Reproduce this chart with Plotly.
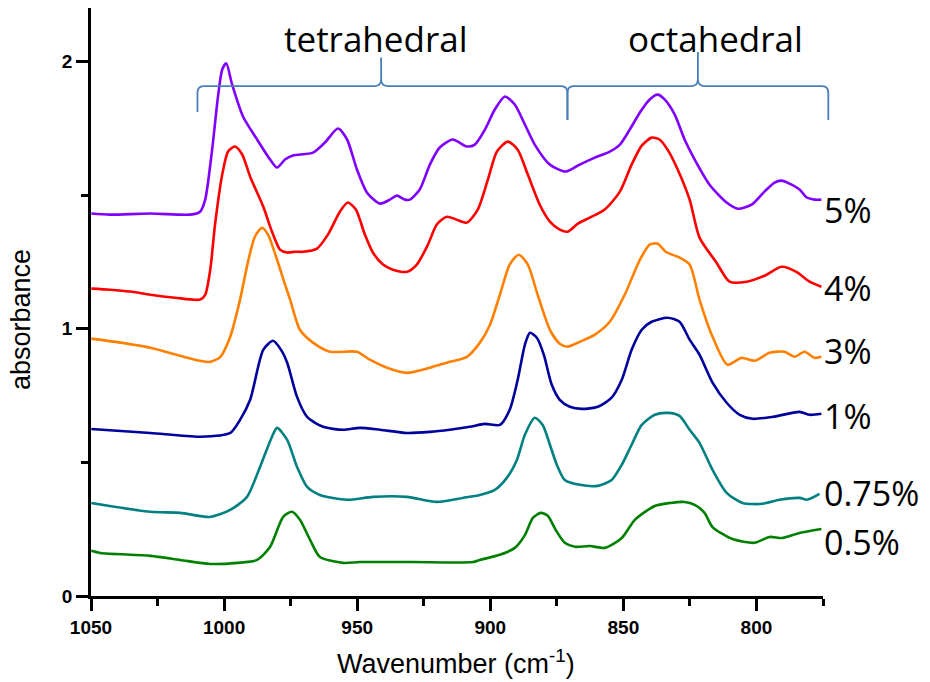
import plotly.graph_objects as go

# ---------------- data (wavenumber cm^-1, absorbance) ----------------
wn_5 = [1049.9,1042.8,1027.7,1012.7,1009.0,1007.1,1004.5,1002.2,1000.7,999.2,997.0,992.9,987.6,982.7,980.1,977.1,
        974.1,966.6,962.1,957.2,953.8,950.1,946.3,941.4,937.7,935.1,932.1,930.2,926.5,922.7,919.0,914.1,908.8,905.8,
        902.0,898.3,894.5,890.8,887.0,883.3,877.6,871.6,866.4,860.7,855.1,851.3,847.6,843.8,840.1,837.1,834.5,830.7,
        827.0,823.2,817.6,811.2,807.1,801.8,797.0,793.2,790.6,787.6,783.8,781.1,778.2,775.6]
ab_5 = [1.431,1.427,1.431,1.427,1.438,1.483,1.670,1.876,1.970,1.993,1.914,1.794,1.708,1.633,1.603,1.633,
        1.648,1.659,1.697,1.749,1.708,1.596,1.509,1.468,1.483,1.498,1.483,1.483,1.521,1.614,1.678,1.708,1.682,1.689,
        1.745,1.820,1.869,1.839,1.764,1.689,1.614,1.588,1.614,1.640,1.663,1.689,1.745,1.809,1.858,1.876,1.858,1.801,
        1.708,1.633,1.539,1.472,1.449,1.464,1.513,1.547,1.554,1.543,1.521,1.491,1.483,1.483]

wn_4 = [1049.9,1042.8,1035.3,1027.7,1018.4,1009.0,1007.1,1005.2,1003.4,1000.7,998.5,995.9,993.2,990.2,985.3,982.0,
        979.0,976.3,973.3,970.3,965.1,961.0,956.5,953.5,950.5,947.1,944.1,940.3,936.6,931.3,927.6,923.4,920.1,916.3,
        912.6,908.8,904.7,900.9,897.5,893.4,889.7,885.9,881.4,877.6,873.9,870.9,867.1,862.6,857.0,851.3,846.9,843.1,
        839.4,836.4,833.4,829.6,825.1,821.4,815.0,810.1,803.7,796.2,790.6,785.0,780.0,775.6]
ab_4 = [1.150,1.146,1.139,1.127,1.116,1.109,1.127,1.221,1.390,1.577,1.663,1.682,1.652,1.569,1.457,1.363,
        1.296,1.285,1.288,1.288,1.300,1.352,1.438,1.472,1.446,1.352,1.285,1.240,1.221,1.213,1.240,1.315,1.390,1.419,
        1.408,1.397,1.446,1.558,1.663,1.700,1.670,1.577,1.464,1.401,1.371,1.363,1.393,1.416,1.446,1.513,1.614,1.685,
        1.715,1.708,1.670,1.596,1.483,1.341,1.247,1.176,1.176,1.202,1.232,1.213,1.176,1.157]

wn_3 = [1049.9,1039.0,1027.7,1016.5,1009.0,1005.2,1001.4,997.7,994.0,991.0,988.4,985.7,983.5,980.1,977.1,975.2,
        971.5,966.6,960.2,950.1,945.2,938.8,931.3,922.7,916.3,908.8,903.9,900.1,896.4,892.7,889.3,885.9,882.2,877.6,
        873.9,870.9,866.4,860.7,855.1,849.5,843.8,840.1,837.1,834.1,828.9,825.1,821.4,816.5,810.9,805.6,800.7,795.1,
        789.5,785.7,781.9,778.2,775.6]
ab_3 = [0.963,0.948,0.929,0.899,0.880,0.876,0.895,0.970,1.109,1.251,1.345,1.378,1.352,1.258,1.165,1.109,
        0.996,0.948,0.914,0.914,0.884,0.854,0.835,0.854,0.873,0.895,0.948,1.015,1.127,1.240,1.277,1.240,1.127,0.996,
        0.944,0.933,0.951,0.978,1.026,1.127,1.258,1.315,1.318,1.288,1.266,1.240,1.109,0.970,0.865,0.891,0.880,0.910,
        0.914,0.895,0.914,0.891,0.895]

wn_1 = [1049.9,1027.7,1009.0,997.7,994.0,990.2,985.3,981.6,978.6,976.3,972.6,968.8,962.8,955.3,949.0,941.4,
        931.3,922.7,915.2,907.7,902.0,896.4,892.7,889.7,887.0,885.1,882.5,879.9,876.9,873.9,870.1,865.6,859.6,854.4,
        850.6,846.9,843.1,839.4,833.4,828.9,825.1,821.4,816.5,811.2,806.3,801.5,794.0,783.8,780.0,775.6]
ab_1 = [0.625,0.610,0.596,0.610,0.659,0.734,0.921,0.955,0.921,0.873,0.745,0.670,0.633,0.622,0.629,0.622,
        0.610,0.614,0.622,0.633,0.644,0.640,0.697,0.809,0.940,0.985,0.966,0.903,0.790,0.734,0.708,0.700,0.708,0.742,
        0.809,0.921,0.996,1.026,1.041,1.026,0.959,0.903,0.798,0.723,0.678,0.663,0.670,0.689,0.678,0.682]

wn_075 = [1049.9,1027.7,1016.5,1005.2,997.7,991.4,986.5,982.0,980.1,976.3,972.6,968.8,964.0,953.8,944.1,931.3,
          920.1,910.3,903.9,898.3,893.8,890.0,887.0,883.3,880.3,877.6,875.0,872.0,866.4,859.6,854.4,850.6,846.9,
          843.1,838.2,833.4,828.9,825.1,821.4,816.5,811.2,805.2,797.7,791.3,783.8,781.1,776.3]
ab_075 = [0.348,0.315,0.311,0.296,0.322,0.371,0.483,0.596,0.629,0.584,0.483,0.408,0.378,0.360,0.371,0.371,
          0.352,0.367,0.378,0.397,0.442,0.509,0.603,0.667,0.640,0.566,0.491,0.434,0.416,0.412,0.434,0.491,0.566,
          0.640,0.678,0.685,0.674,0.622,0.573,0.472,0.386,0.348,0.345,0.360,0.367,0.360,0.382]

wn_05 = [1049.9,1046.5,1027.7,1016.5,1005.2,995.1,987.6,982.7,977.8,974.5,971.5,967.7,964.0,955.3,949.0,929.1,
         906.5,903.9,896.4,890.8,887.0,884.0,881.0,878.4,875.4,872.0,868.2,862.6,857.0,850.6,845.7,838.2,832.6,
         827.0,823.2,819.5,816.5,809.0,800.7,795.1,790.2,783.8,775.6]
ab_05 = [0.169,0.161,0.150,0.135,0.120,0.124,0.135,0.184,0.296,0.315,0.285,0.210,0.146,0.124,0.127,0.127,
         0.127,0.135,0.154,0.180,0.228,0.292,0.311,0.300,0.247,0.199,0.184,0.187,0.180,0.217,0.285,0.337,0.348,
         0.352,0.341,0.311,0.258,0.213,0.199,0.221,0.217,0.236,0.251]

series_names = ["5%", "4%", "3%", "1%", "0.75%", "0.5%"]
series_wn = [wn_5, wn_4, wn_3, wn_1, wn_075, wn_05]
series_ab = [ab_5, ab_4, ab_3, ab_1, ab_075, ab_05]
series_colors = ["#8000FF", "#FF0000", "#FF8000", "#00009C", "#008080", "#008000"]
label_y = [1.446, 1.154, 0.918, 0.674, 0.386, 0.202]

# brace groups: (left wn, tip wn, right wn), label
brace_groups = [(1010, 941, 871), (871, 822, 773)]
brace_labels = ["tetrahedral", "octahedral"]
brace_label_wn = [943, 815.5]
brace_tip_y = [2.015, 2.035]

X_MAX, X_MIN = 1050, 775
Y_MAX = 2.2

fig = go.Figure()
for nm, xs, ys, c in zip(series_names, series_wn, series_ab, series_colors):
    fig.add_trace(go.Scatter(x=xs, y=ys, mode="lines", name=nm,
                             line=dict(color=c, width=2.6, shape="spline", smoothing=0.7),
                             showlegend=False, hoverinfo="skip"))

annotations = []
for nm, yv in zip(series_names, label_y):
    annotations.append(dict(x=X_MIN, y=yv, xref="x", yref="y", text=nm, showarrow=False,
                            xanchor="left", yanchor="middle", xshift=-1,
                            font=dict(family="Open Sans", size=34, color="black")))
for lab, xw in zip(brace_labels, brace_label_wn):
    annotations.append(dict(x=xw, y=2.085, xref="x", yref="y", text=lab, showarrow=False,
                            xanchor="center", yanchor="middle",
                            font=dict(family="Open Sans", size=35, color="black")))
annotations.append(dict(x=(21 - 91) / 732, y=(596 - 320) / 588, xref="paper", yref="paper",
                        text="absorbance", showarrow=False, textangle=-90,
                        xanchor="center", yanchor="middle",
                        font=dict(family="Liberation Sans", size=27, color="black")))
annotations.append(dict(x=(456 - 91) / 732, y=-(662 - 596) / 588, xref="paper", yref="paper",
                        text="Wavenumber (cm<sup>-1</sup>)", showarrow=False,
                        xanchor="center", yanchor="middle",
                        font=dict(family="Liberation Sans", size=27, color="black")))


def px(w):
    return (X_MAX - w) / (X_MAX - X_MIN)


shapes = []
y_line = 1.908
ry = 0.026
rx = 2.3
for (a, m, b), ytip in zip(brace_groups, brace_tip_y):
    y_end_a = 1.811 if a == brace_groups[0][0] else 1.781
    y_end_b = 1.781
    path = (f"M {px(a)},{y_end_a} L {px(a)},{y_line - ry} Q {px(a)},{y_line} {px(a - rx)},{y_line} "
            f"L {px(m + rx)},{y_line} Q {px(m)},{y_line} {px(m)},{y_line + ry} L {px(m)},{ytip} "
            f"L {px(m)},{y_line + ry} Q {px(m)},{y_line} {px(m - rx)},{y_line} "
            f"L {px(b + rx)},{y_line} Q {px(b)},{y_line} {px(b)},{y_line - ry} L {px(b)},{y_end_b}")
    shapes.append(dict(type="path", xref="paper", yref="y", path=path,
                       line=dict(color="#4A7EBB", width=1.8)))

tickfont = dict(family="Liberation Sans", size=19, color="black")
fig.update_layout(
    width=930, height=682,
    margin=dict(l=91, r=107, t=8, b=86),
    paper_bgcolor="white", plot_bgcolor="white",
    annotations=annotations, shapes=shapes,
    xaxis=dict(range=[X_MAX, X_MIN], showgrid=False, zeroline=False,
               showline=True, linecolor="black", linewidth=2.5,
               ticks="outside", ticklen=12, tickwidth=2.5, tickcolor="black",
               tickmode="array", tickvals=[1050, 1000, 950, 900, 850, 800],
               ticktext=["<b>1050</b>", "<b>1000</b>", "<b>950</b>", "<b>900</b>", "<b>850</b>", "<b>800</b>"],
               tickfont=tickfont,
               minor=dict(tickmode="array", tickvals=[1025, 975, 925, 875, 825, 775],
                          ticks="outside", ticklen=7, tickwidth=2.5, tickcolor="black")),
    yaxis=dict(range=[0, Y_MAX], showgrid=False, zeroline=False,
               showline=True, linecolor="black", linewidth=2.5,
               ticks="outside", ticklen=12, tickwidth=2.5, tickcolor="black",
               tickmode="array", tickvals=[0, 1, 2], ticktext=["<b>0</b>", "<b>1</b>", "<b>2</b>"],
               tickfont=tickfont,
               minor=dict(tickmode="array", tickvals=[0.5, 1.5],
                          ticks="outside", ticklen=7, tickwidth=2.5, tickcolor="black")),
)

fig.write_html("out.html")
